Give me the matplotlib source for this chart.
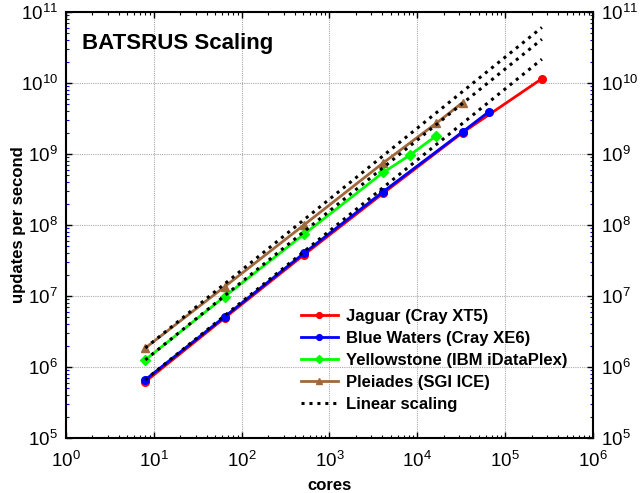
import numpy as np
import matplotlib
matplotlib.use("Agg")
import matplotlib.pyplot as plt
from matplotlib.ticker import LogLocator, NullFormatter

plt.rcParams['font.family'] = ['Liberation Sans', 'DejaVu Sans']

# cores and updates per second for each machine
jaguar_cores = [8, 64, 512, 4096, 32768, 262144]
jaguar_ups = [6.2e5, 4.9e6, 3.8e7, 2.8e8, 2.0e9, 1.15e10]

bluewaters_cores = [8, 64, 512, 4096, 32768, 65536]
bluewaters_ups = [6.6e5, 5.1e6, 4.0e7, 2.95e8, 2.05e9, 3.95e9]

yellowstone_cores = [8, 64, 512, 4096, 8192, 16384]
yellowstone_ups = [1.26e6, 9.8e6, 7.4e7, 5.5e8, 9.6e8, 1.8e9]

pleiades_cores = [8, 64, 512, 4096, 16384, 32768]
pleiades_ups = [1.85e6, 1.35e7, 1.0e8, 7.5e8, 2.7e9, 5.3e9]

# ideal linear scaling, drawn from the 8-core runs up to the largest run
linear_cores = [8, 262144]
linear_bases = [bluewaters_ups[0], yellowstone_ups[0], pleiades_ups[0]]

fig = plt.figure(figsize=(6.43, 4.93), dpi=100)
ax = fig.add_axes([0.1026, 0.1116, 0.8196, 0.8641])

ax.plot(jaguar_cores, jaguar_ups, color='#ff0000', lw=2, marker='o', ms=5.5,
        label='Jaguar (Cray XT5)', zorder=3)
ax.plot(bluewaters_cores, bluewaters_ups, color='#0000ff', lw=2, marker='o', ms=5.5,
        label='Blue Waters (Cray XE6)', zorder=4)
ax.plot(yellowstone_cores, yellowstone_ups, color='#00ff00', lw=2, marker='D', ms=5,
        label='Yellowstone (IBM iDataPlex)', zorder=3)
ax.plot(pleiades_cores, pleiades_ups, color='#a0693c', lw=2, marker='^', ms=5.5,
        label='Pleiades (SGI ICE)', zorder=3)

for i, base in enumerate(linear_bases):
    ys = [base * c / linear_cores[0] for c in linear_cores]
    ax.plot(linear_cores, ys, color='black', lw=2.2, ls=(0, (1, 1.6)),
            label='Linear scaling' if i == 0 else None, zorder=5)

ax.set_xscale('log')
ax.set_yscale('log')
ax.set_xlim(1, 1e6)
ax.set_ylim(1e5, 1e11)

ax.xaxis.set_major_locator(LogLocator(base=10, numticks=10))
ax.xaxis.set_minor_locator(LogLocator(base=10, subs=np.arange(2, 10), numticks=10))
ax.yaxis.set_major_locator(LogLocator(base=10, numticks=10))
ax.yaxis.set_minor_locator(LogLocator(base=10, subs=np.arange(2, 10), numticks=10))
ax.xaxis.set_minor_formatter(NullFormatter())
ax.yaxis.set_minor_formatter(NullFormatter())

ax.tick_params(axis='both', which='major', direction='in', length=4, width=1,
               labelsize=13.5, top=True, right=True, labelright=True)
ax.tick_params(axis='x', which='minor', direction='in', length=2.5, width=0.8,
               top=True)
ax.tick_params(axis='y', which='minor', direction='in', length=2.5, width=0.8,
               color='#0000ff', left=True, right=True)
ax.tick_params(axis='x', which='major', pad=9)
ax.tick_params(axis='y', which='major', pad=6)

for s in ax.spines.values():
    s.set_linewidth(1.5)

ax.grid(True, which='major', color='#aaaaaa', ls=(0, (1, 1)), lw=0.8)
ax.set_axisbelow(True)

ax.set_xlabel('cores', fontsize=12, fontweight='bold')
ax.xaxis.set_label_coords(0.5, -0.095)
ax.set_ylabel('updates per second', fontsize=12, fontweight='bold')
ax.yaxis.set_label_coords(-0.076, 0.5)

ax.text(0.03, 0.95, 'BATSRUS Scaling', transform=ax.transAxes, fontsize=16,
        fontweight='bold', va='top', ha='left')

ax.legend(loc='lower right', bbox_to_anchor=(0.98, 0.025), frameon=False,
          prop={'weight': 'bold', 'size': 12}, handlelength=2.2,
          handletextpad=0.5, labelspacing=0.42, markerscale=0.75)

fig.savefig('out.png', dpi=100)
